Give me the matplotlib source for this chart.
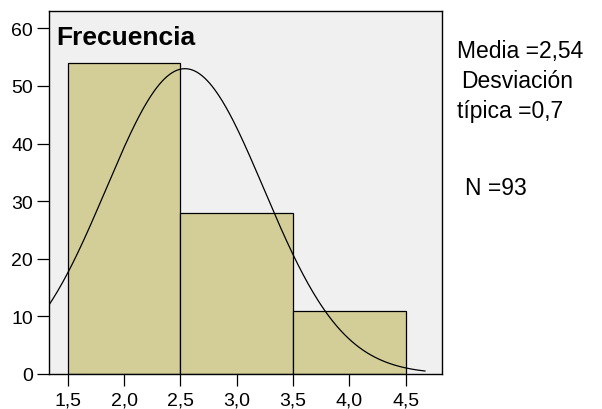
import matplotlib
matplotlib.use("Agg")
import matplotlib.pyplot as plt
import numpy as np

matplotlib.rcParams['font.family'] = ['Liberation Sans', 'DejaVu Sans']

# histogram data
bin_left   = [1.5, 2.5, 3.5]
bin_width  = 1.0
counts     = [54, 28, 11]

mean_val   = 2.54
std_val    = 0.7
n_val      = 93

x_ticks    = [1.5, 2.0, 2.5, 3.0, 3.5, 4.0, 4.5]
x_labels   = ["1,5", "2,0", "2,5", "3,0", "3,5", "4,0", "4,5"]
y_ticks    = [0, 10, 20, 30, 40, 50, 60]

stats_lines = ["Media =2,54", "Desviación", "típica =0,7", "N =93"]


def figure_1():
    W, H = 602, 410
    fig = plt.figure(figsize=(W / 100, H / 100), dpi=100)
    fig.patch.set_facecolor("white")

    left, right, top, bottom = 49, 441.5, 11.5, 375
    ax = fig.add_axes([left / W, 1 - bottom / H, (right - left) / W, (bottom - top) / H])
    ax.set_facecolor("#f0f0f0")

    ax.bar(bin_left, counts, width=bin_width, align="edge",
           color="#d3ce98", edgecolor="black", linewidth=0.9, zorder=2)

    # normal curve scaled to counts
    xs = np.linspace(1.33, 4.67, 300)
    ys = n_val * bin_width / (std_val * np.sqrt(2 * np.pi)) * \
        np.exp(-0.5 * ((xs - mean_val) / std_val) ** 2)
    ax.plot(xs, ys, color="black", linewidth=0.9, zorder=3)

    ax.set_xlim(1.333, 4.817)
    ax.set_ylim(0, 63.1)

    ax.set_xticks(x_ticks)
    ax.set_xticklabels(x_labels)
    ax.set_yticks(y_ticks)
    ax.tick_params(axis="both", direction="out", length=8.5, width=0.9,
                   labelsize=14, color="black", pad=3)
    ax.tick_params(axis="x", pad=4)
    for sp in ax.spines.values():
        sp.set_linewidth(1.0)
        sp.set_color("black")

    fig.text(56 / W, 1 - 45 / H, "Frecuencia", fontsize=19,
             fontweight="bold", ha="left", va="baseline")

    # statistics box on the right
    xs_txt = [457, 461, 457, 465]
    ys_txt = [58, 88, 118, 195]
    for s, x, y in zip(stats_lines, xs_txt, ys_txt):
        fig.text(x / W, 1 - y / H, s, fontsize=16.5, ha="left", va="baseline")

    fig.savefig("out.png", dpi=100)


def main():
    figure_1()

if __name__ == '__main__':
    main()
